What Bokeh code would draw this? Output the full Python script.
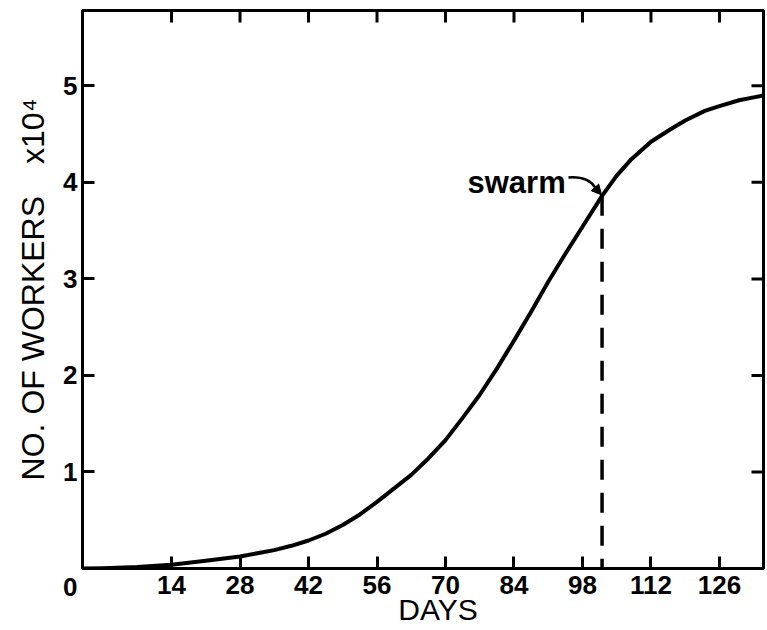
import numpy as np
from bokeh.plotting import figure
from bokeh.models import Range1d, LinearAxis, FixedTicker, Label, Arrow, NormalHead
from bokeh.embed import file_html
from bokeh.resources import INLINE

# ---- data ----
days = [-4, 0, 7, 14, 21, 28, 35, 38.5, 42, 45.5, 49, 52.5, 56, 59.5, 63, 66.5, 70, 73.5, 77,
        80.5, 84, 87.5, 91, 94.5, 98, 102, 105, 108, 112, 116, 119, 123, 126, 130, 133, 135]
workers = [0.0, 0.003, 0.015, 0.04, 0.08, 0.125, 0.19, 0.235, 0.29, 0.36, 0.45, 0.56, 0.69, 0.83,
           0.97, 1.14, 1.33, 1.56, 1.80, 2.07, 2.36, 2.66, 2.97, 3.26, 3.54, 3.86, 4.07, 4.24,
           4.42, 4.55, 4.64, 4.74, 4.79, 4.85, 4.88, 4.90]
x_ticks = [14, 28, 42, 56, 70, 84, 98, 112, 126]
y_ticks = [0, 1, 2, 3, 4, 5]
swarm_day = 102
swarm_text = "swarm"
x_label = "DAYS"
y_label = "NO. OF WORKERS\u2003x10\u2074"

FONT = "Liberation Sans"
X0, X1, Y0, Y1 = -4.2, 135, 0, 5.78
TICK_PX = 12
PX_PER_DAY = 4.893      # frame width 681 px / 139.2 days
PX_PER_UNIT = 96.55     # frame height 558 px / 5.78 units

p = figure(width=765, height=628, output_backend="svg", toolbar_location=None,
           x_range=Range1d(X0, X1), y_range=Range1d(Y0, Y1),
           x_axis_type=None, y_axis_type=None,
           min_border_left=82, min_border_right=2, min_border_top=10, min_border_bottom=60)
p.background_fill_color = "white"
p.border_fill_color = "white"
p.grid.visible = False
p.outline_line_color = "black"
p.outline_line_width = 3

def style_axis(ax):
    ax.axis_line_width = 3
    ax.axis_line_color = "black"
    ax.major_tick_line_width = 3
    ax.major_tick_line_color = "black"
    ax.major_tick_in = TICK_PX
    ax.major_tick_out = 0
    ax.minor_tick_line_color = None
    ax.major_label_text_font = FONT
    ax.major_label_text_font_style = "bold"
    ax.major_label_text_font_size = "26px"
    ax.major_label_text_color = "black"
    ax.axis_label_text_font = FONT
    ax.axis_label_text_font_style = "normal"
    ax.axis_label_text_color = "black"

xb = LinearAxis(ticker=FixedTicker(ticks=x_ticks))
style_axis(xb)
xb.major_label_standoff = 7
xb.axis_label = "\u2002\u2002" + x_label
xb.axis_label_text_font_size = "30px"
xb.axis_label_standoff = -4
p.add_layout(xb, "below")

yl = LinearAxis(ticker=FixedTicker(ticks=y_ticks))
style_axis(yl)
yl.major_label_overrides = {0: "\n0"}
yl.major_label_standoff = 5
yl.axis_label = y_label
yl.axis_label_text_font_size = "32px"
yl.axis_label_standoff = 9
p.add_layout(yl, "left")

# inward ticks on the top and right frame edges
tick_dy = TICK_PX / PX_PER_UNIT
tick_dx = TICK_PX / PX_PER_DAY
p.segment(x0=x_ticks, y0=[Y1] * len(x_ticks), x1=x_ticks, y1=[Y1 - tick_dy] * len(x_ticks),
          line_color="black", line_width=3)
y_inner = [t for t in y_ticks if t > 0]
p.segment(x0=[X1] * len(y_inner), y0=y_inner, x1=[X1 - tick_dx] * len(y_inner), y1=y_inner,
          line_color="black", line_width=3)

# curve
p.line(days, workers, line_color="black", line_width=4, line_join="round")

# swarm dashed line
swarm_y = float(np.interp(swarm_day, days, workers))
p.segment(x0=[swarm_day], y0=[swarm_y], x1=[swarm_day], y1=[0], line_color="black",
          line_width=3.5, line_dash="20 13")

# swarm label and curved arrow
p.add_layout(Label(x=swarm_day - 27.5, y=swarm_y + 0.14, text=swarm_text, text_font=FONT,
                   text_font_style="bold", text_font_size="31px", text_color="black",
                   text_baseline="alphabetic"))
p.bezier(x0=[swarm_day - 6.87], y0=[swarm_y + 0.19], x1=[swarm_day - 1.35], y1=[swarm_y + 0.083],
         cx0=[swarm_day - 4.0], cy0=[swarm_y + 0.20], cx1=[swarm_day - 2.17], cy1=[swarm_y + 0.15],
         line_color="black", line_width=2.5)
p.add_layout(Arrow(end=NormalHead(size=10, fill_color="black", line_color="black", line_width=1),
                   x_start=swarm_day - 1.4, y_start=swarm_y + 0.085,
                   x_end=swarm_day - 0.1, y_end=swarm_y + 0.01,
                   line_color="black", line_width=2.5))

open("out.html", "w").write(file_html(p, INLINE))
